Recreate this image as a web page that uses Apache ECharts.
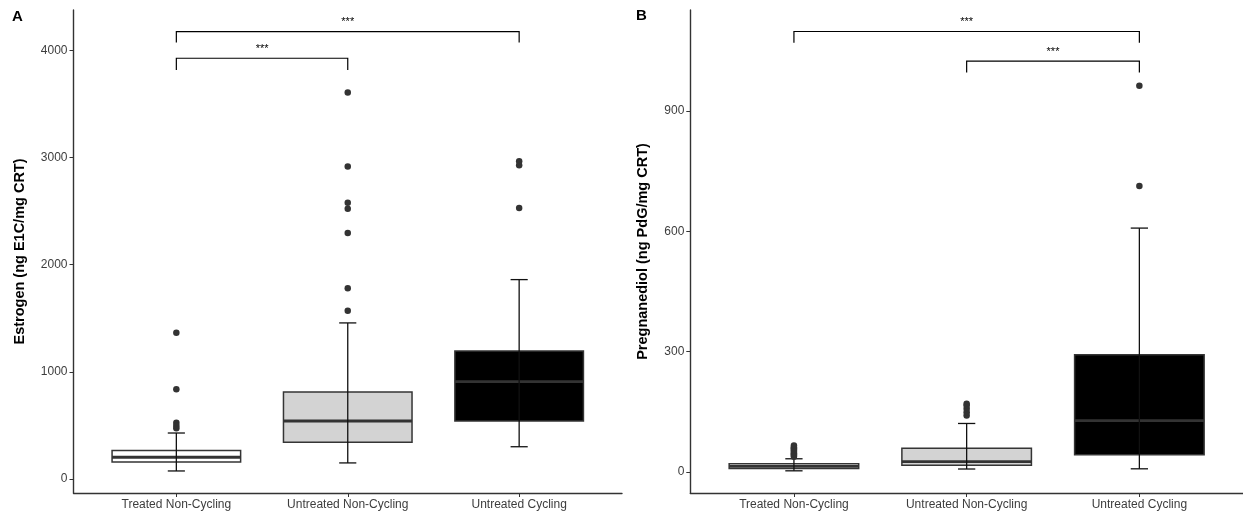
<!DOCTYPE html>
<html>
<head>
<meta charset="utf-8">
<title>Estrogen and Pregnanediol</title>
<script src="https://cdn.jsdelivr.net/npm/echarts@6/dist/echarts.min.js"></script>
<style>
    html, body { margin: 0; padding: 0; background: #fff; }
    #chart { width: 1243px; height: 518px; }
</style>
</head>
<body>
<div id="chart"></div>
<script>
// groups on the x axis
var groups = ['Treated Non-Cycling', 'Untreated Non-Cycling', 'Untreated Cycling'];
var boxFill = ['#ffffff', '#d3d3d3', '#000000'];

// panel A - estrogen, each box = [lower whisker, Q1, median, Q3, upper whisker]
var estrogenBox = [
    [75, 159, 203, 265, 429],
    [150, 343, 541, 812, 1456],
    [301, 541, 908, 1194, 1860]
];
var estrogenOut = [
    [1365, 837, 525, 497, 473],
    [3605, 2914, 2578, 2522, 2295, 1779, 1570],
    [2964, 2926, 2529]
];
var estrogenTicks = [0, 1000, 2000, 3000, 4000];
// significance brackets: [from group, to group, bar value, leg end value]
var estrogenSig = [[1, 3, 4173, 4071], [1, 2, 3925, 3816]];

// panel B - pregnanediol
var pdgBox = [
    [3, 9, 14, 20.5, 33],
    [7.5, 17, 26, 59, 121],
    [8, 43, 128, 292, 608]
];
var pdgOut = [
    [38, 41, 44, 47, 50, 53, 56, 59, 62, 66],
    [141, 149, 158, 166, 170],
    [713, 963]
];
var pdgTicks = [0, 300, 600, 900];
var pdgSig = [[1, 3, 1098, 1070], [2, 3, 1024, 996]];

var sigText = '***';
var font = '"Liberation Sans", Arial, Helvetica, sans-serif';

var chart = echarts.init(document.getElementById('chart'));

function boxData(list) {
    return list.map(function (b, i) { return [i + 1].concat(b); });
}
function pointData(list) {
    var out = [];
    list.forEach(function (vals, i) {
        vals.forEach(function (v) { out.push([i + 1, v]); });
    });
    return out;
}

function drawBox(params, api) {
    var x = api.value(0);
    var half = api.size([0.375, 0])[0];
    var cap = api.size([0.05, 0])[0];
    var lo = api.coord([x, api.value(1)]);
    var q1 = api.coord([x, api.value(2)]);
    var md = api.coord([x, api.value(3)]);
    var q3 = api.coord([x, api.value(4)]);
    var hi = api.coord([x, api.value(5)]);
    var wStyle = { stroke: '#111', lineWidth: 1.3 };
    return {
        type: 'group',
        children: [
            { type: 'rect', shape: { x: q3[0] - half, y: q3[1], width: half * 2, height: q1[1] - q3[1] },
              style: { fill: boxFill[x - 1], stroke: '#353535', lineWidth: 1.5 } },
            { type: 'line', shape: { x1: md[0] - half, y1: md[1], x2: md[0] + half, y2: md[1] },
              style: { stroke: '#333', lineWidth: 2.8 } },
            { type: 'line', shape: { x1: lo[0], y1: lo[1], x2: hi[0], y2: hi[1] }, style: wStyle },
            { type: 'line', shape: { x1: lo[0] - cap, y1: lo[1], x2: lo[0] + cap, y2: lo[1] }, style: wStyle },
            { type: 'line', shape: { x1: hi[0] - cap, y1: hi[1], x2: hi[0] + cap, y2: hi[1] }, style: wStyle }
        ]
    };
}

function drawSig(params, api) {
    var a = api.coord([api.value(0), api.value(3)]);
    var b = api.coord([api.value(0), api.value(2)]);
    var c = api.coord([api.value(1), api.value(2)]);
    var d = api.coord([api.value(1), api.value(3)]);
    return {
        type: 'group',
        children: [
            { type: 'polyline', shape: { points: [a, b, c, d] },
              style: { fill: null, stroke: '#000', lineWidth: 1.2 } },
            { type: 'text', x: (b[0] + c[0]) / 2, y: b[1] - 4,
              style: { text: sigText, align: 'center', verticalAlign: 'bottom',
                       textAlign: 'center', textVerticalAlign: 'bottom',
                       font: '11px ' + font, fill: '#000' } }
        ]
    };
}

function xAxisFor(idx) {
    return {
        gridIndex: idx, type: 'value', min: 0.4, max: 3.6,
        axisLine: { show: true, onZero: false, lineStyle: { color: '#333', width: 1.4 } },
        axisTick: { show: true, length: 4, customValues: [1, 2, 3], lineStyle: { color: '#333' } },
        axisLabel: { customValues: [1, 2, 3], margin: 6, color: '#3d3d3d', fontSize: 12, fontFamily: font,
                     formatter: function (v) { return groups[Math.round(v) - 1]; } },
        splitLine: { show: false }
    };
}

function yAxisFor(idx, min, max, ticks, title, gap) {
    return {
        gridIndex: idx, type: 'value', min: min, max: max,
        name: title, nameLocation: 'middle', nameGap: gap, nameRotate: 90,
        nameTextStyle: { fontWeight: 'bold', fontSize: 14.5, color: '#000', fontFamily: font },
        axisLine: { show: true, onZero: false, lineStyle: { color: '#333', width: 1.4 } },
        axisTick: { show: true, length: 4, customValues: ticks, lineStyle: { color: '#333' } },
        axisLabel: { customValues: ticks, margin: 6, color: '#3d3d3d', fontSize: 12, fontFamily: font,
                     formatter: function (v) { return String(v); } },
        splitLine: { show: false }
    };
}

var option = {
    animation: false,
    textStyle: { fontFamily: font },
    grid: [
        { left: 73.5, right: 621, top: 10, bottom: 25 },
        { left: 690.3, right: -3, top: 10, bottom: 25 }
    ],
    xAxis: [xAxisFor(0), xAxisFor(1)],
    yAxis: [
        yAxisFor(0, -130.6, 4375, estrogenTicks, 'Estrogen (ng E1C/mg CRT)', 46),
        yAxisFor(1, -52.3, 1151.6, pdgTicks, 'Pregnanediol (ng PdG/mg CRT)', 40)
    ],
    graphic: [
        { type: 'text', left: 12, top: 9, style: { text: 'A', font: 'bold 15px ' + font, fill: '#000' } },
        { type: 'text', left: 636, top: 8, style: { text: 'B', font: 'bold 15px ' + font, fill: '#000' } }
    ],
    series: [
        { type: 'custom', xAxisIndex: 0, yAxisIndex: 0, renderItem: drawBox,
          data: boxData(estrogenBox), encode: { x: 0, y: [1, 2, 3, 4, 5] } },
        { type: 'scatter', xAxisIndex: 0, yAxisIndex: 0, symbolSize: 6.5,
          itemStyle: { color: '#333', opacity: 1 }, data: pointData(estrogenOut) },
        { type: 'custom', xAxisIndex: 0, yAxisIndex: 0, renderItem: drawSig,
          data: estrogenSig, encode: { x: [0, 1], y: [2, 3] } },

        { type: 'custom', xAxisIndex: 1, yAxisIndex: 1, renderItem: drawBox,
          data: boxData(pdgBox), encode: { x: 0, y: [1, 2, 3, 4, 5] } },
        { type: 'scatter', xAxisIndex: 1, yAxisIndex: 1, symbolSize: 6.5,
          itemStyle: { color: '#333', opacity: 1 }, data: pointData(pdgOut) },
        { type: 'custom', xAxisIndex: 1, yAxisIndex: 1, renderItem: drawSig,
          data: pdgSig, encode: { x: [0, 1], y: [2, 3] } }
    ]
};
chart.setOption(option);
</script>
</body>
</html>
